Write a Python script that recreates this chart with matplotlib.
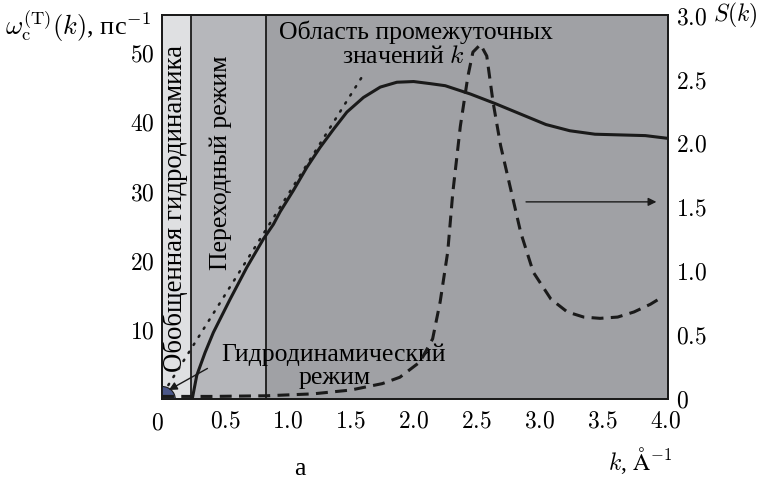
import matplotlib
matplotlib.use("Agg")
import matplotlib.pyplot as plt
from matplotlib.patches import Ellipse

plt.rcParams["font.family"] = ["Liberation Serif", "DejaVu Serif"]
plt.rcParams["mathtext.fontset"] = "cm"
plt.rcParams["font.size"] = 17

# transverse collective frequency omega_c(k), ps^-1
k_w = [0.24, 0.276, 0.342, 0.408, 0.541, 0.674, 0.806, 0.885, 0.938,
       1.044, 1.15, 1.256, 1.362, 1.469, 1.60, 1.734, 1.866, 1.999, 2.13,
       2.25, 2.45, 2.65, 2.85, 3.05, 3.24, 3.44, 3.64, 3.84, 4.02]
w_c = [0.0, 3.4, 6.7, 9.6, 14.4, 19.0, 23.1, 25.2, 27.0,
       30.1, 33.4, 36.3, 38.9, 41.4, 43.5, 45.0, 45.7, 45.8, 45.5,
       45.2, 44.0, 42.6, 41.1, 39.6, 38.7, 38.2, 38.1, 38.0, 37.6]

# hydrodynamic asymptote (dotted)
k_hd = [0.05, 1.6]
w_hd = [2.0, 46.8]

# static structure factor S(k)
k_s = [0.0, 0.4, 0.83, 1.2, 1.5, 1.75, 1.89, 2.05, 2.15, 2.21, 2.27, 2.31,
       2.37, 2.43, 2.47, 2.53, 2.58, 2.63, 2.69, 2.77, 2.85, 2.95, 3.09,
       3.22, 3.35, 3.48, 3.62, 3.75, 3.88, 3.98]
s_k = [0.02, 0.02, 0.025, 0.04, 0.07, 0.12, 0.17, 0.29, 0.47, 0.76, 1.15,
       1.61, 2.13, 2.52, 2.71, 2.77, 2.68, 2.32, 1.98, 1.64, 1.30, 0.99,
       0.78, 0.68, 0.64, 0.63, 0.64, 0.68, 0.74, 0.80]

# k-regions: generalized hydrodynamics, transition, intermediate k
region_edges = [0.0, 0.23, 0.83, 4.02]
region_colors = ["#dfe0e2", "#b6b7bb", "#a0a1a5"]

x_ticks = [0.5, 1.0, 1.5, 2.0, 2.5, 3.0, 3.5, 4.0]
y_ticks = [10, 20, 30, 40, 50]
s_ticks = [0, 0.5, 1.0, 1.5, 2.0, 2.5, 3.0]

fs_text = 18.5

fig = plt.figure(figsize=(7.65, 4.85), dpi=100)
ax = fig.add_axes([0.2118, 0.1753, 0.6614, 0.7917])
ax.set_xlim(0, 4.02)
ax.set_ylim(0, 55.4)

for i, c in enumerate(region_colors):
    ax.axvspan(region_edges[i], region_edges[i + 1], color=c, zorder=0, lw=0)
for e in region_edges[1:3]:
    ax.axvline(e, color="#1a1a1a", lw=1.3, zorder=1)

ax.add_patch(Ellipse((0, 0), 0.21, 3.6, facecolor="#4b5789",
                     edgecolor="#1a1a1a", lw=0.8, zorder=3))

ax.plot(k_w, w_c, color="#1a1a1a", lw=2.2, zorder=4)
ax.plot(k_hd, w_hd, color="#1a1a1a", lw=1.8, linestyle=(0, (0.6, 3.2)),
        dash_capstyle="round", zorder=4)

ax2 = ax.twinx()
ax2.set_ylim(0, 3.0)
ax2.plot(k_s, s_k, color="#1a1a1a", lw=2.2, linestyle=(0, (3.9, 2.4)),
         zorder=4)
ax2.annotate("", xy=(3.95, 1.54), xytext=(2.87, 1.54),
             arrowprops=dict(arrowstyle="-|>", color="#1a1a1a", lw=1.0,
                             mutation_scale=12))

ax.set_xticks(x_ticks)
ax.set_xticklabels([f"${v:.1f}$" for v in x_ticks])
ax.set_yticks(y_ticks)
ax.set_yticklabels([f"${v}$" for v in y_ticks])
ax2.set_yticks(s_ticks)
ax2.set_yticklabels(["$0$"] + [f"${v:.1f}$" for v in s_ticks[1:]])
ax.tick_params(axis="x", length=0, pad=8)
ax.tick_params(axis="y", length=0, pad=5)
ax2.tick_params(axis="y", length=0, pad=6)
for sp in list(ax.spines.values()) + list(ax2.spines.values()):
    sp.set_linewidth(1.3)
    sp.set_color("#1a1a1a")

ax.text(-0.04, -1.9, "$0$", ha="center", va="top")

ax.text(0.107, 27.6, "Обобщенная гидродинамика", rotation=90,
        ha="center", va="center", fontsize=19.3)
ax.text(0.47, 34.2, "Переходный режим", rotation=90,
        ha="center", va="center", fontsize=fs_text)
ax.text(2.02, 53.0, "Область промежуточных", ha="center", va="center",
        fontsize=fs_text)
ax.text(1.92, 49.5, "значений $k$", ha="center", va="center",
        fontsize=fs_text)
ax.text(1.36, 6.5, "Гидродинамический", ha="center", va="center",
        fontsize=fs_text)
ax.text(1.37, 3.2, "режим", ha="center", va="center", fontsize=fs_text)
ax.annotate("", xy=(0.035, 1.1), xytext=(0.38, 4.6),
            arrowprops=dict(arrowstyle="-|>", color="#1a1a1a", lw=1.0,
                            mutation_scale=12))

fig.text(0.006, 0.945, r"$\omega_{\rm c}^{(\rm T)}(k)$, пс$^{-1}$",
         ha="left", va="center", fontsize=19)
fig.text(0.932, 0.968, "$S(k)$", ha="left", va="center")
fig.text(0.795, 0.05, r"$k$, $\rm\AA^{-1}$", ha="left", va="center")
fig.text(0.392, 0.032, "а", ha="center", va="center", fontsize=fs_text)

fig.savefig("out.png", dpi=100)
